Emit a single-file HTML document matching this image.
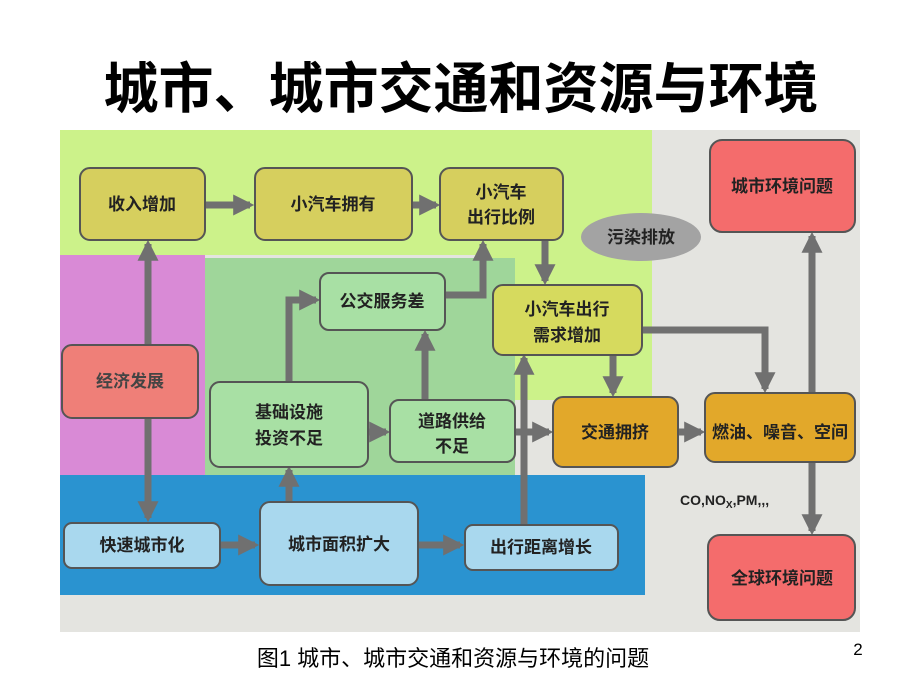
<!DOCTYPE html>
<html><head><meta charset="utf-8"><style>
body{margin:0;width:920px;height:690px;background:#fff;overflow:hidden}
svg{display:block}
text{font-family:"Liberation Sans","Noto Sans CJK SC",sans-serif;font-weight:bold}
</style></head><body>
<svg width="920" height="690" viewBox="0 0 920 690">
<defs><marker id="a" viewBox="0 0 10 10" refX="8" refY="5" markerWidth="3" markerHeight="3" orient="auto"><path d="M0,0L10,5L0,10z" fill="#707070"/></marker></defs>
<text x="461" y="108" font-size="55" text-anchor="middle" fill="#000">城市、城市交通和资源与环境</text>
<rect x="60" y="130" width="800" height="502" fill="#e4e4e0"/>
<rect x="60" y="130" width="592" height="125" fill="#ccf28a"/>
<rect x="480" y="250" width="172" height="150" fill="#ccf28a"/>
<rect x="60" y="255" width="145" height="220" fill="#d98ad6"/>
<rect x="205" y="258" width="310" height="217" fill="#9fd69a"/>
<rect x="60" y="475" width="585" height="120" fill="#2a93d0"/>
<g stroke="#707070" stroke-width="7" fill="none" marker-end="url(#a)">
<line x1="205" y1="205" x2="250" y2="205"/>
<line x1="412" y1="205" x2="436" y2="205"/>
<line x1="148" y1="345" x2="148" y2="244"/>
<line x1="148" y1="418" x2="148" y2="518"/>
<line x1="220" y1="545" x2="255" y2="545"/>
<line x1="418" y1="545" x2="460" y2="545"/>
<line x1="289" y1="502" x2="289" y2="470"/>
<polyline points="289,382 289,300 316,300"/>
<polyline points="445,295 483,295 483,244"/>
<line x1="425" y1="400" x2="425" y2="334"/>
<line x1="368" y1="432" x2="386" y2="432"/>
<line x1="515" y1="432" x2="549" y2="432"/>
<line x1="524" y1="525" x2="524" y2="358"/>
<line x1="545" y1="240" x2="545" y2="281"/>
<line x1="613" y1="355" x2="613" y2="393"/>
<polyline points="642,330 765,330 765,389"/>
<line x1="678" y1="432" x2="701" y2="432"/>
<line x1="812" y1="393" x2="812" y2="236"/>
<line x1="812" y1="462" x2="812" y2="531"/>
</g>
<g stroke="#555" stroke-width="2">
<rect x="80" y="168" width="125" height="72" rx="10" fill="#d6cf5e"/>
<rect x="255" y="168" width="157" height="72" rx="10" fill="#d6cf5e"/>
<rect x="440" y="168" width="123" height="72" rx="10" fill="#d6cf5e"/>
<rect x="493" y="285" width="149" height="70" rx="10" fill="#d6da5e"/>
<rect x="710" y="140" width="145" height="92" rx="12" fill="#f46c6c"/>
<rect x="708" y="535" width="147" height="85" rx="12" fill="#f46c6c"/>
<rect x="320" y="273" width="125" height="57" rx="9" fill="#a8e0a4"/>
<rect x="62" y="345" width="136" height="73" rx="10" fill="#ef7f78"/>
<rect x="210" y="382" width="158" height="85" rx="10" fill="#a8e0a4"/>
<rect x="390" y="400" width="125" height="62" rx="9" fill="#a8e0a4"/>
<rect x="553" y="397" width="125" height="70" rx="10" fill="#e2a82a"/>
<rect x="705" y="393" width="150" height="69" rx="10" fill="#e2a82a"/>
<rect x="64" y="523" width="156" height="45" rx="8" fill="#a9d8ee"/>
<rect x="260" y="502" width="158" height="83" rx="10" fill="#a9d8ee"/>
<rect x="465" y="525" width="153" height="45" rx="8" fill="#a9d8ee"/>
</g>
<ellipse cx="641" cy="237" rx="60" ry="24" fill="#a3a3a3"/>
<g font-size="17" fill="#222" text-anchor="middle">
<text x="142" y="210">收入增加</text>
<text x="333" y="210">小汽车拥有</text>
<text x="501" y="198">小汽车</text>
<text x="501" y="223">出行比例</text>
<text x="641" y="243">污染排放</text>
<text x="782" y="192">城市环境问题</text>
<text x="382" y="307">公交服务差</text>
<text x="567" y="315">小汽车出行</text>
<text x="567" y="341">需求增加</text>
<text x="130" y="387" fill="#444">经济发展</text>
<text x="289" y="418">基础设施</text>
<text x="289" y="444">投资不足</text>
<text x="452" y="427">道路供给</text>
<text x="452" y="452">不足</text>
<text x="615" y="438">交通拥挤</text>
<text x="780" y="438">燃油、噪音、空间</text>
<text x="142" y="551">快速城市化</text>
<text x="339" y="550">城市面积扩大</text>
<text x="541" y="553">出行距离增长</text>
<text x="782" y="584">全球环境问题</text>
</g>
<text x="680" y="505" font-size="14" fill="#222">CO,NO<tspan font-size="10" dy="3">X</tspan><tspan dy="-3">,PM,,,</tspan></text>
<text x="453" y="666" font-size="22" text-anchor="middle" fill="#000" style="font-weight:normal">图1  城市、城市交通和资源与环境的问题</text>
<text x="858" y="655" font-size="17" text-anchor="middle" style="font-weight:normal">2</text>
</svg>
</body></html>
